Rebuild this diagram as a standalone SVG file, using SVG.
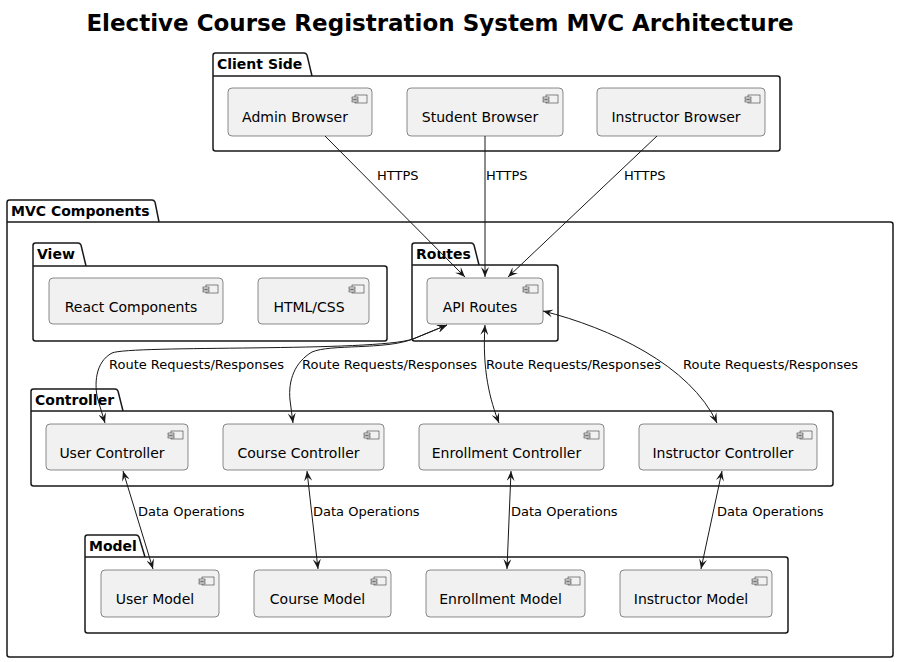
<svg xmlns="http://www.w3.org/2000/svg" width="899" height="662" viewBox="0 0 899 662">
<defs>
<style>
.pkg{fill:none;stroke:#181818;stroke-width:1.5}
.ptitle{font-family:"DejaVu Sans",sans-serif;font-size:14px;font-weight:bold;fill:#000}
.comp{fill:#F1F1F1;stroke:#181818;stroke-width:0.5}
.icon{fill:#F1F1F1;stroke:#181818;stroke-width:0.5}
.ctext{font-family:"DejaVu Sans",sans-serif;font-size:14px;fill:#000;text-anchor:middle}
.edge{fill:none;stroke:#181818;stroke-width:1}
.lbl{font-family:"DejaVu Sans",sans-serif;font-size:13px;fill:#000}
.title{font-family:"DejaVu Sans",sans-serif;font-size:23px;font-weight:bold;fill:#000;text-anchor:middle}
</style>
<marker id="arr" viewBox="0 0 10 8" refX="10" refY="4" markerWidth="10" markerHeight="8" markerUnits="userSpaceOnUse" orient="auto-start-reverse">
<path d="M0,0 L10,4 L0,8 L4,4 Z" fill="#181818"/>
</marker>
<symbol id="ico" overflow="visible">
<rect x="-17" y="7" width="12" height="8" class="icon"/>
<rect x="-20" y="9" width="6" height="2" class="icon"/>
<rect x="-20" y="12" width="6" height="2" class="icon"/>
</symbol>
</defs>
<rect width="899" height="662" fill="#FFFFFF"/>
<text class="title" x="440" y="31">Elective Course Registration System MVC Architecture</text>

<g id="pkg-client">
<path class="pkg" d="M213,76 V55.5 Q213,53 215.5,53 H304 Q306,53 307,55 L312,76 H777.5 Q780,76 780,78.5 V148.5 Q780,151 777.5,151 H215.5 Q213,151 213,148.5 Z M213,76 H312"/>
<text class="ptitle" x="217" y="69">Client Side</text>
</g>
<g id="pkg-mvc">
<path class="pkg" d="M7,222 V202.5 Q7,200 9.5,200 H152 Q154,200 155,202 L159,222 H890.5 Q893,222 893,224.5 V654.5 Q893,657 890.5,657 H9.5 Q7,657 7,654.5 Z M7,222 H159"/>
<text class="ptitle" x="11" y="216">MVC Components</text>
</g>
<g id="pkg-view">
<path class="pkg" d="M33,266 V245.5 Q33,243 35.5,243 H78 Q80,243 81,245 L86,266 H384.5 Q387,266 387,268.5 V338.5 Q387,341 384.5,341 H35.5 Q33,341 33,338.5 Z M33,266 H86"/>
<text class="ptitle" x="37" y="259">View</text>
</g>
<g id="pkg-routes">
<path class="pkg" d="M412,265 V245.5 Q412,243 414.5,243 H471 Q473,243 474,245 L479,265 H555.5 Q558,265 558,267.5 V338.5 Q558,341 555.5,341 H414.5 Q412,341 412,338.5 Z M412,265 H479"/>
<text class="ptitle" x="416" y="259">Routes</text>
</g>
<g id="pkg-controller">
<path class="pkg" d="M31,411 V391.5 Q31,389 33.5,389 H115 Q117,389 118,391 L123,411 H830.5 Q833,411 833,413.5 V483.5 Q833,486 830.5,486 H33.5 Q31,486 31,483.5 Z M31,411 H123"/>
<text class="ptitle" x="35" y="405">Controller</text>
</g>
<g id="pkg-model">
<path class="pkg" d="M85,557 V537.5 Q85,535 87.5,535 H136 Q138,535 139,537 L145,557 H785.5 Q788,557 788,559.5 V630.5 Q788,633 785.5,633 H87.5 Q85,633 85,630.5 Z M85,557 H145"/>
<text class="ptitle" x="89" y="551">Model</text>
</g>

<g id="admin-browser"><rect class="comp" x="228" y="88" width="144" height="48" rx="4"/><use href="#ico" x="372" y="88"/><text class="ctext" x="295" y="122">Admin Browser</text></g>
<g id="student-browser"><rect class="comp" x="407" y="88" width="156" height="48" rx="4"/><use href="#ico" x="563" y="88"/><text class="ctext" x="480" y="122">Student Browser</text></g>
<g id="instructor-browser"><rect class="comp" x="597" y="88" width="168" height="48" rx="4"/><use href="#ico" x="765" y="88"/><text class="ctext" x="676" y="122">Instructor Browser</text></g>

<g id="react-components"><rect class="comp" x="49" y="278" width="174" height="46" rx="4"/><use href="#ico" x="223" y="278"/><text class="ctext" x="131" y="312">React Components</text></g>
<g id="html-css"><rect class="comp" x="258" y="278" width="111" height="46" rx="4"/><use href="#ico" x="369" y="278"/><text class="ctext" x="309" y="312">HTML/CSS</text></g>
<g id="api-routes"><rect class="comp" x="427" y="278" width="116" height="46" rx="4"/><use href="#ico" x="543" y="278"/><text class="ctext" x="480" y="312">API Routes</text></g>

<g id="user-controller"><rect class="comp" x="46" y="424" width="142" height="46" rx="4"/><use href="#ico" x="188" y="424"/><text class="ctext" x="112" y="458">User Controller</text></g>
<g id="course-controller"><rect class="comp" x="223" y="424" width="161" height="46" rx="4"/><use href="#ico" x="384" y="424"/><text class="ctext" x="298.5" y="458">Course Controller</text></g>
<g id="enrollment-controller"><rect class="comp" x="419" y="424" width="185" height="46" rx="4"/><use href="#ico" x="604" y="424"/><text class="ctext" x="506.5" y="458">Enrollment Controller</text></g>
<g id="instructor-controller"><rect class="comp" x="639" y="424" width="178" height="46" rx="4"/><use href="#ico" x="817" y="424"/><text class="ctext" x="723" y="458">Instructor Controller</text></g>

<g id="user-model"><rect class="comp" x="101" y="570" width="118" height="47" rx="4"/><use href="#ico" x="219" y="570"/><text class="ctext" x="155" y="604">User Model</text></g>
<g id="course-model"><rect class="comp" x="254" y="570" width="137" height="47" rx="4"/><use href="#ico" x="391" y="570"/><text class="ctext" x="317.5" y="604">Course Model</text></g>
<g id="enrollment-model"><rect class="comp" x="426" y="570" width="159" height="47" rx="4"/><use href="#ico" x="585" y="570"/><text class="ctext" x="500.5" y="604">Enrollment Model</text></g>
<g id="instructor-model"><rect class="comp" x="620" y="570" width="152" height="47" rx="4"/><use href="#ico" x="772" y="570"/><text class="ctext" x="691" y="604">Instructor Model</text></g>

<g id="connectors">
<path class="edge" marker-end="url(#arr)" d="M325,136 L465,277"/>
<path class="edge" marker-end="url(#arr)" d="M485,136 L485,277"/>
<path class="edge" marker-end="url(#arr)" d="M657,136 L508,277"/>
<path class="edge" marker-start="url(#arr)" marker-end="url(#arr)" d="M447,325 L413,339 C375,352 130,345 112,353 C95,362 94,385 98,400 L105,423"/>
<path class="edge" marker-start="url(#arr)" marker-end="url(#arr)" d="M447,325 L413,339 C385,350 330,344 312,352 C295,362 288,380 290,400 L293,423"/>
<path class="edge" marker-start="url(#arr)" marker-end="url(#arr)" d="M485,325 C482,370 490,400 499,423"/>
<path class="edge" marker-start="url(#arr)" marker-end="url(#arr)" d="M543,311 C610,328 690,365 717,423"/>
<path class="edge" marker-start="url(#arr)" marker-end="url(#arr)" d="M123,471 L153,569"/>
<path class="edge" marker-start="url(#arr)" marker-end="url(#arr)" d="M307,471 L318,569"/>
<path class="edge" marker-start="url(#arr)" marker-end="url(#arr)" d="M511,471 L507,569"/>
<path class="edge" marker-start="url(#arr)" marker-end="url(#arr)" d="M722,471 L701,569"/>
<text class="lbl" x="377" y="180">HTTPS</text>
<text class="lbl" x="486" y="180">HTTPS</text>
<text class="lbl" x="624" y="180">HTTPS</text>
<text class="lbl" x="109" y="369">Route Requests/Responses</text>
<text class="lbl" x="302" y="369">Route Requests/Responses</text>
<text class="lbl" x="486" y="369">Route Requests/Responses</text>
<text class="lbl" x="683" y="369">Route Requests/Responses</text>
<text class="lbl" x="138" y="516">Data Operations</text>
<text class="lbl" x="313" y="516">Data Operations</text>
<text class="lbl" x="511" y="516">Data Operations</text>
<text class="lbl" x="717" y="516">Data Operations</text>
</g>
</svg>
